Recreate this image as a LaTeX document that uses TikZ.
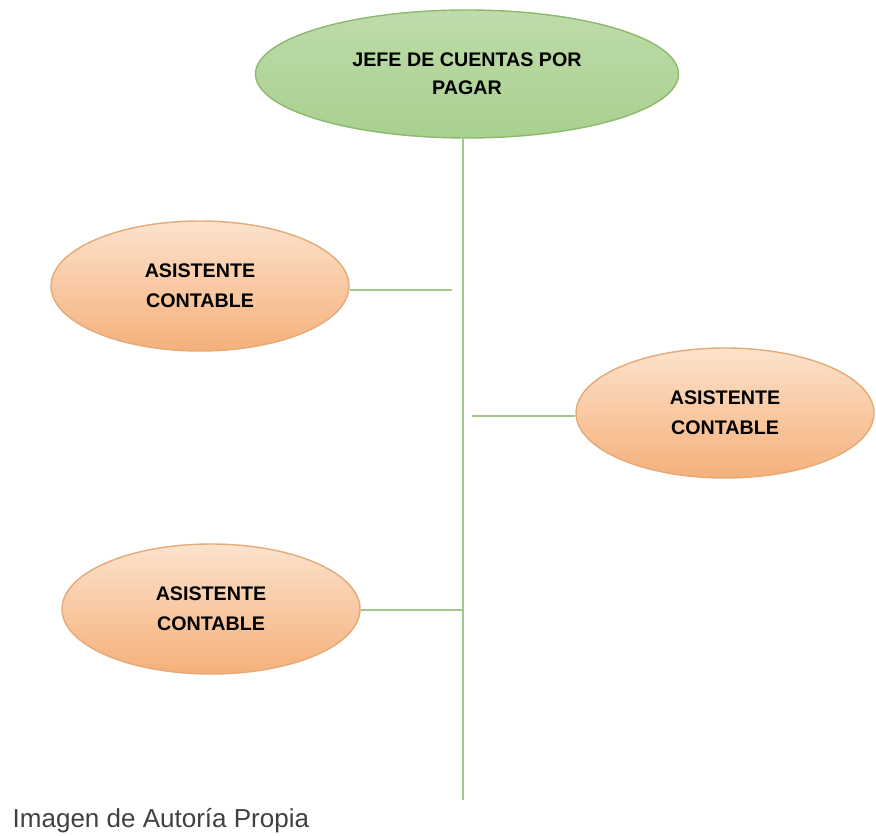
\documentclass[tikz,border=0pt]{standalone}
\usepackage{fontspec}
\setmainfont{Liberation Sans}
\usepackage{tikz}
\usetikzlibrary{shapes.geometric}
\definecolor{jefegreen}{RGB}{169,208,142}
\definecolor{jefeborder}{RGB}{140,185,110}
\definecolor{asisttop}{RGB}{252,226,204}
\definecolor{asistbot}{RGB}{245,176,122}
\definecolor{asistborder}{RGB}{228,170,120}
\definecolor{linegreen}{RGB}{160,200,140}
\tikzset{jefe/.style={ellipse, draw=jefeborder, top color=jefegreen!75!white, bottom color=jefegreen, minimum width=4.23cm, minimum height=1.28cm, inner sep=0pt, align=center, font=\fontsize{5.6}{8}\selectfont\bfseries}}
\tikzset{asist/.style={ellipse, draw=asistborder, top color=asisttop, bottom color=asistbot, minimum width=2.98cm, minimum height=1.3cm, inner sep=0pt, align=center, font=\fontsize{5.6}{8.5}\selectfont\bfseries}}
\tikzset{link/.style={draw=linegreen, line width=0.6pt}}

\begin{document}
\begin{tikzpicture}
    \useasboundingbox (0, 0) rectangle (8.76, -8.35);
    \node[jefe] (jefe) at (4.67, -0.74) {JEFE DE CUENTAS POR\\PAGAR};
    \node[asist] (asistA) at (2.00, -2.86) {ASISTENTE\\CONTABLE};
    \node[asist] (asistB) at (7.25, -4.13) {ASISTENTE\\CONTABLE};
    \node[asist] (asistC) at (2.11, -6.09) {ASISTENTE\\CONTABLE};
    \coordinate (tronco) at (4.63, -8.00);
    \coordinate (finA) at (4.52, -2.90);
    \coordinate (iniB) at (4.72, -4.16);
    \coordinate (finC) at (4.63, -6.10);
    \draw[link] (jefe.south -| tronco) -- (tronco);
    \draw[link] (asistA.east |- finA) -- (finA);
    \draw[link] (iniB) -- (asistB.west |- iniB);
    \draw[link] (asistC.east |- finC) -- (finC);
    \node[anchor=west, inner sep=0pt, font=\fontsize{7.4}{9}\selectfont, text=black!75] (pie) at (0.12, -8.21) {Imagen de Autoría Propia};
  \end{tikzpicture}
\end{document}
